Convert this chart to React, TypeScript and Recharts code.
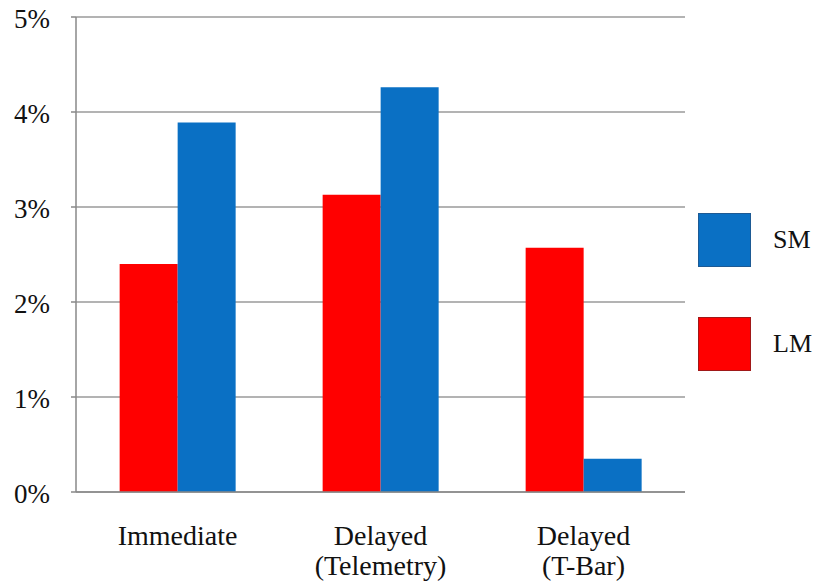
import { BarChart, Bar, XAxis, YAxis, CartesianGrid } from 'recharts';

const categories = ['Immediate', 'Delayed\n(Telemetry)', 'Delayed\n(T-Bar)'];
const lmValues = [2.4, 3.13, 2.57];
const smValues = [3.89, 4.26, 0.35];
const yTicks = [0, 1, 2, 3, 4, 5];

const data = categories.map((name, i) => ({ name, idx: i + 0.5, LM: lmValues[i], SM: smValues[i] }));

const FONT = '"Liberation Serif", "Times New Roman", serif';
const RED = '#FF0000';
const BLUE = '#0A70C4';

const CategoryTick = ({ x, y, payload }: any) => {
  const lines = String(payload.value).split('\n');
  return (
    <text x={x} y={y} textAnchor="middle" style={{ fontFamily: FONT, fontSize: 28, fill: '#111' }}>
      {lines.map((l, i) => (
        <tspan key={i} x={x} dy={i === 0 ? 45 : 30}>{l}</tspan>
      ))}
    </text>
  );
};

const PercentTick = ({ x, y, payload }: any) => (
  <text x={x} y={y} dy={11} textAnchor="end" style={{ fontFamily: FONT, fontSize: 27, fill: '#111' }}>
    {`${payload.value}%`}
  </text>
);

const legendItems = [
  { name: 'SM', color: BLUE, border: '#1d5a94' },
  { name: 'LM', color: RED, border: '#a01818' },
];

export default function App() {
  return (
    <div style={{ position: 'absolute', left: 0, top: 0, width: 817, height: 587, background: '#fff' }}>
      <BarChart
        width={817}
        height={587}
        data={data}
        margin={{ top: 17, right: 132, bottom: 0, left: 0 }}
        barCategoryGap="21.5%"
        barGap={0}
      >
        <CartesianGrid vertical={false} stroke="#9a9a9a" strokeWidth={1.5} />
        <XAxis
          xAxisId="bounds"
          type="number"
          dataKey="idx"
          domain={[0, 3]}
          ticks={[0, 1, 2, 3]}
          height={0}
          axisLine={false}
          tickLine={{ stroke: '#888', strokeWidth: 1.5 }}
          tickSize={5}
          tick={() => <g />}
        />
        <XAxis
          dataKey="name"
          height={95}
          interval={0}
          axisLine={{ stroke: '#888', strokeWidth: 1.5 }}
          tickLine={false}
          tick={<CategoryTick />}
        />
        <YAxis
          domain={[0, 5]}
          ticks={yTicks}
          width={76}
          axisLine={{ stroke: '#888', strokeWidth: 1.5 }}
          tickLine={{ stroke: '#888', strokeWidth: 1.5 }}
          tickSize={5}
          tickMargin={21}
          tick={<PercentTick />}
        />
        <Bar dataKey="LM" fill={RED} isAnimationActive={false} />
        <Bar dataKey="SM" fill={BLUE} isAnimationActive={false} />
      </BarChart>
      <div style={{ position: 'absolute', left: 698, top: 213 }}>
        {legendItems.map((it, i) => (
          <div key={it.name} style={{ display: 'flex', alignItems: 'center', height: 54, marginBottom: i === 0 ? 50 : 0 }}>
            <div style={{ width: 53, height: 54, background: it.color, border: `1px solid ${it.border}`, boxSizing: 'border-box' }} />
            <span style={{ fontFamily: FONT, fontSize: 26, color: '#111', marginLeft: 22 }}>{it.name}</span>
          </div>
        ))}
      </div>
    </div>
  );
}
